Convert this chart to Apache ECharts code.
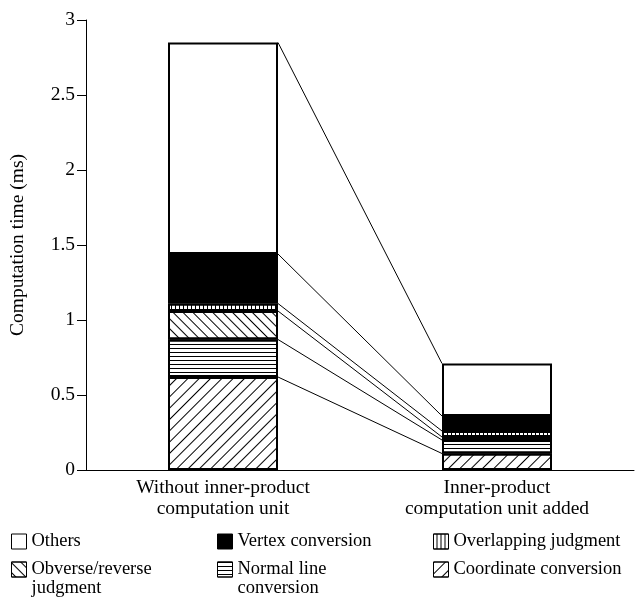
<!DOCTYPE html>
<html>
<head>
<meta charset="utf-8">
<script src="https://cdn.jsdelivr.net/npm/echarts@6/dist/echarts.min.js"></script>
<style>
  html, body { margin: 0; padding: 0; background: #fff; }
  #chart { width: 637px; height: 597px; }
</style>
</head>
<body>
<div id="chart"></div>
<script>
var categories = ['Without inner-product\ncomputation unit', 'Inner-product\ncomputation unit added'];

// stack order, bottom to top
var coordinateConversion = [0.62, 0.11];
var normalLineConversion = [0.25, 0.09];
var obverseReverse = [0.19, 0.02];
var overlappingJudgment = [0.05, 0.04];
var vertexConversion = [0.33, 0.10];
var others = [1.41, 0.35];

var yMin = 0;
var yMax = 3;
var yStep = 0.5;

var FONT = '"Liberation Serif", "Times New Roman", serif';
var BAR_W = 110;

var stackSeries = [
    {
        name: 'Coordinate conversion',
        data: coordinateConversion,
        decal: { symbol: 'rect', symbolSize: 1, dashArrayX: [1, 0], dashArrayY: [1, 7], rotation: -Math.PI / 4, color: '#000' }
    },
    {
        name: 'Normal line conversion',
        data: normalLineConversion,
        decal: { symbol: 'rect', symbolSize: 1, dashArrayX: [1, 0], dashArrayY: [1, 3], rotation: 0, color: '#000' }
    },
    {
        name: 'Obverse/reverse judgment',
        data: obverseReverse,
        decal: { symbol: 'rect', symbolSize: 1, dashArrayX: [1, 0], dashArrayY: [1, 6], rotation: Math.PI / 4, color: '#000' }
    },
    {
        name: 'Overlapping judgment',
        data: overlappingJudgment,
        decal: { symbol: 'rect', symbolSize: 1, dashArrayX: [1, 0], dashArrayY: [1, 3], rotation: Math.PI / 2, color: '#000' }
    },
    {
        name: 'Vertex conversion',
        data: vertexConversion,
        color: '#000'
    },
    {
        name: 'Others',
        data: others
    }
];

// tops of every segment, used for the connecting lines
var boundaries = [];
var accL = 0, accR = 0;
stackSeries.forEach(function (s) {
    accL += s.data[0];
    accR += s.data[1];
    boundaries.push([0, +accL.toFixed(3), +accR.toFixed(3)]);
});

var series = stackSeries.map(function (s) {
    var itemStyle = {
        color: s.color || '#fff',
        borderColor: '#000',
        borderWidth: 2
    };
    if (s.decal) {
        itemStyle.decal = s.decal;
    }
    return {
        name: s.name,
        type: 'bar',
        stack: 'total',
        barWidth: BAR_W,
        data: s.data,
        itemStyle: itemStyle,
        emphasis: { disabled: true },
        z: 3
    };
});

series.push({
    type: 'custom',
    data: boundaries,
    encode: { x: 0, y: [1, 2] },
    z: 1,
    silent: true,
    renderItem: function (params, api) {
        var p0 = api.coord([0, api.value(1)]);
        var p1 = api.coord([1, api.value(2)]);
        return {
            type: 'line',
            shape: { x1: p0[0] + BAR_W / 2, y1: p0[1], x2: p1[0] - BAR_W / 2, y2: p1[1] },
            style: { stroke: '#000', lineWidth: 1 }
        };
    }
});

var multiLine = {
    'Obverse/reverse judgment': ' \nObverse/reverse\njudgment',
    'Normal line conversion': ' \nNormal line\nconversion'
};

function legendAt(name, left, top) {
    return {
        data: [name],
        left: left,
        top: top,
        padding: 0,
        itemWidth: 15,
        itemHeight: 15,
        itemGap: 0,
        itemTextGap: 9,
        icon: 'rect',
        selectedMode: false,
        itemStyle: { borderColor: '#000', borderWidth: 1 },
        formatter: function (n) { return multiLine[n] || n; },
        textStyle: { fontFamily: FONT, fontSize: 18.5, color: '#000', lineHeight: 19 }
    };
}

var option = {
    backgroundColor: '#fff',
    animation: false,
    grid: { left: 86, right: 3, top: 20, bottom: 127, outerBoundsMode: 'none' },
    legend: [
        legendAt('Others', 11, 532),
        legendAt('Vertex conversion', 217, 532),
        legendAt('Overlapping judgment', 433, 532),
        legendAt('Obverse/reverse judgment', 11, 541),
        legendAt('Normal line conversion', 217, 541),
        legendAt('Coordinate conversion', 433, 560)
    ],
    xAxis: {
        type: 'category',
        data: categories,
        axisLine: { lineStyle: { color: '#000', width: 1 } },
        axisTick: { show: false },
        axisLabel: {
            fontFamily: FONT,
            fontSize: 19.5,
            color: '#000',
            lineHeight: 21,
            margin: 7,
            interval: 0
        }
    },
    yAxis: {
        type: 'value',
        min: yMin,
        max: yMax,
        interval: yStep,
        name: 'Computation time (ms)',
        nameLocation: 'middle',
        nameGap: 58,
        nameTextStyle: { fontFamily: FONT, fontSize: 19.5, color: '#000' },
        axisLine: { show: true, lineStyle: { color: '#000', width: 1 } },
        axisTick: { show: true, length: 9, lineStyle: { color: '#000' } },
        splitLine: { show: false },
        axisLabel: {
            fontFamily: FONT,
            fontSize: 19.5,
            color: '#000',
            margin: 11,
            formatter: function (v) { return String(v); }
        }
    },
    series: series
};

var chart = echarts.init(document.getElementById('chart'), null, { renderer: 'canvas' });
chart.setOption(option);
</script>
</body>
</html>
